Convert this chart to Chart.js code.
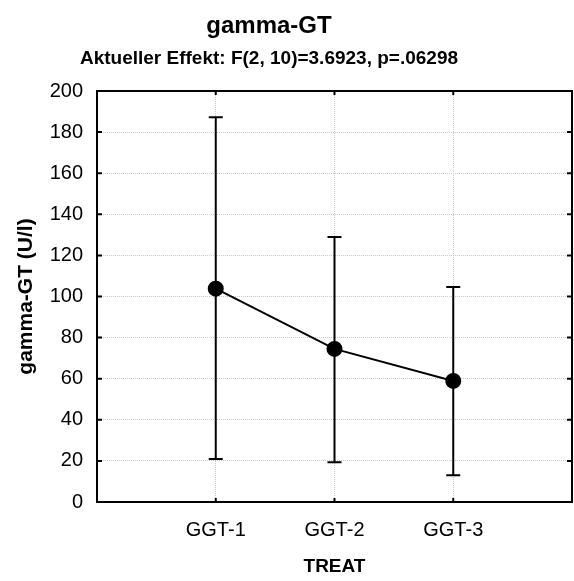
<!DOCTYPE html>
<html>
<head>
<meta charset="utf-8">
<script src="https://cdn.jsdelivr.net/npm/chart.js@4"></script>
<style>
  html, body { margin: 0; padding: 0; background: #fff; overflow: hidden; }
  #wrap { width: 574px; height: 581px; position: relative; }
  #grafica { display: block; }
</style>
</head>
<body>
<div id="wrap"><canvas id="grafica"></canvas></div>
<script>
// ========== DATOS ==========
const categorias = ['GGT-1', 'GGT-2', 'GGT-3'];
const posiciones = [1, 2, 3];
const medias = [103.8, 74.5, 58.9];
const limiteInf = [20.9, 19.3, 13.0];
const limiteSup = [187.2, 129.0, 104.6];
const ticksY = [0, 20, 40, 60, 80, 100, 120, 140, 160, 180, 200];

const titulo = 'gamma-GT';
const subtitulo = 'Aktueller Effekt: F(2, 10)=3.6923, p=.06298';

const FUENTE = '"Liberation Sans", Arial, sans-serif';

// ========== PLUGIN: barras de error, marco y titulos ==========
const pluginExtras = {
  id: 'extras',
  afterDatasetsDraw(chart) {
    const ctx = chart.ctx;
    const x = chart.scales.x;
    const y = chart.scales.y;
    const area = chart.chartArea;

    // barras de error
    ctx.save();
    ctx.strokeStyle = '#000';
    ctx.lineWidth = 2;
    posiciones.forEach((p, i) => {
      const px = x.getPixelForValue(p);
      const y1 = y.getPixelForValue(limiteInf[i]);
      const y2 = y.getPixelForValue(limiteSup[i]);
      ctx.beginPath();
      ctx.moveTo(px, y1); ctx.lineTo(px, y2);
      ctx.moveTo(px - 7, y1); ctx.lineTo(px + 7, y1);
      ctx.moveTo(px - 7, y2); ctx.lineTo(px + 7, y2);
      ctx.stroke();
    });

    // marco
    ctx.lineWidth = 2;
    ctx.strokeRect(area.left, area.top, area.right - area.left, area.bottom - area.top);

    // marcas hacia dentro
    ctx.beginPath();
    posiciones.forEach(p => {
      const px = x.getPixelForValue(p);
      ctx.moveTo(px, area.top); ctx.lineTo(px, area.top + 4);
      ctx.moveTo(px, area.bottom); ctx.lineTo(px, area.bottom - 4);
    });
    ticksY.forEach(v => {
      const py = y.getPixelForValue(v);
      ctx.moveTo(area.right, py); ctx.lineTo(area.right - 5, py);
      ctx.moveTo(area.left, py); ctx.lineTo(area.left + 5, py);
    });
    ctx.stroke();
    ctx.restore();
  },
  afterDraw(chart) {
    const ctx = chart.ctx;
    ctx.save();
    ctx.fillStyle = '#000';
    ctx.textAlign = 'center';
    ctx.textBaseline = 'alphabetic';
    ctx.font = 'bold 24px ' + FUENTE;
    ctx.fillText(titulo, 269, 33);
    ctx.font = 'bold 19px ' + FUENTE;
    ctx.fillText(subtitulo, 269, 64);
    ctx.restore();
  }
};

// ========== GRAFICA ==========
new Chart(document.getElementById('grafica'), {
  type: 'line',
  data: {
    datasets: [{
      data: posiciones.map((p, i) => ({ x: p, y: medias[i] })),
      borderColor: '#000',
      backgroundColor: '#000',
      borderWidth: 2,
      pointRadius: 7,
      pointBackgroundColor: '#000',
      tension: 0,
      fill: false
    }]
  },
  options: {
    responsive: true,
    maintainAspectRatio: false,
    animation: false,
    layout: { autoPadding: false, padding: { top: 91, right: 2, left: 0, bottom: 0 } },
    plugins: {
      legend: { display: false },
      tooltip: { enabled: false }
    },
    scales: {
      x: {
        type: 'linear',
        min: 0,
        max: 4,
        afterBuildTicks: scale => { scale.ticks = posiciones.map(v => ({ value: v })); },
        afterFit: scale => {
          scale.height = 79;
          scale.paddingLeft = 0;
          scale.paddingRight = 0;
        },
        ticks: {
          callback: v => categorias[posiciones.indexOf(v)] || '',
          color: '#000',
          font: { family: FUENTE, size: 20 },
          padding: 16,
          maxRotation: 0
        },
        grid: { color: '#c8c8c8', drawTicks: false, lineWidth: 1 },
        border: { display: false, dash: [1, 1] },
        title: {
          display: true,
          text: 'TREAT',
          color: '#000',
          font: { family: FUENTE, size: 19, weight: 'bold' },
          padding: { top: 0, bottom: 3 }
        }
      },
      y: {
        min: 0,
        max: 200,
        afterBuildTicks: scale => { scale.ticks = ticksY.map(v => ({ value: v })); },
        afterFit: scale => {
          scale.width = 97;
          scale.paddingTop = 0;
          scale.paddingBottom = 0;
        },
        ticks: {
          color: '#000',
          font: { family: FUENTE, size: 20 },
          padding: 14
        },
        grid: { color: '#c8c8c8', drawTicks: false, lineWidth: 1 },
        border: { display: false, dash: [1, 1] },
        title: {
          display: true,
          text: 'gamma-GT (U/l)',
          color: '#000',
          font: { family: FUENTE, size: 21, weight: 'bold' },
          padding: { top: 14, bottom: 0 }
        }
      }
    }
  },
  plugins: [pluginExtras]
});
</script>
</body>
</html>
